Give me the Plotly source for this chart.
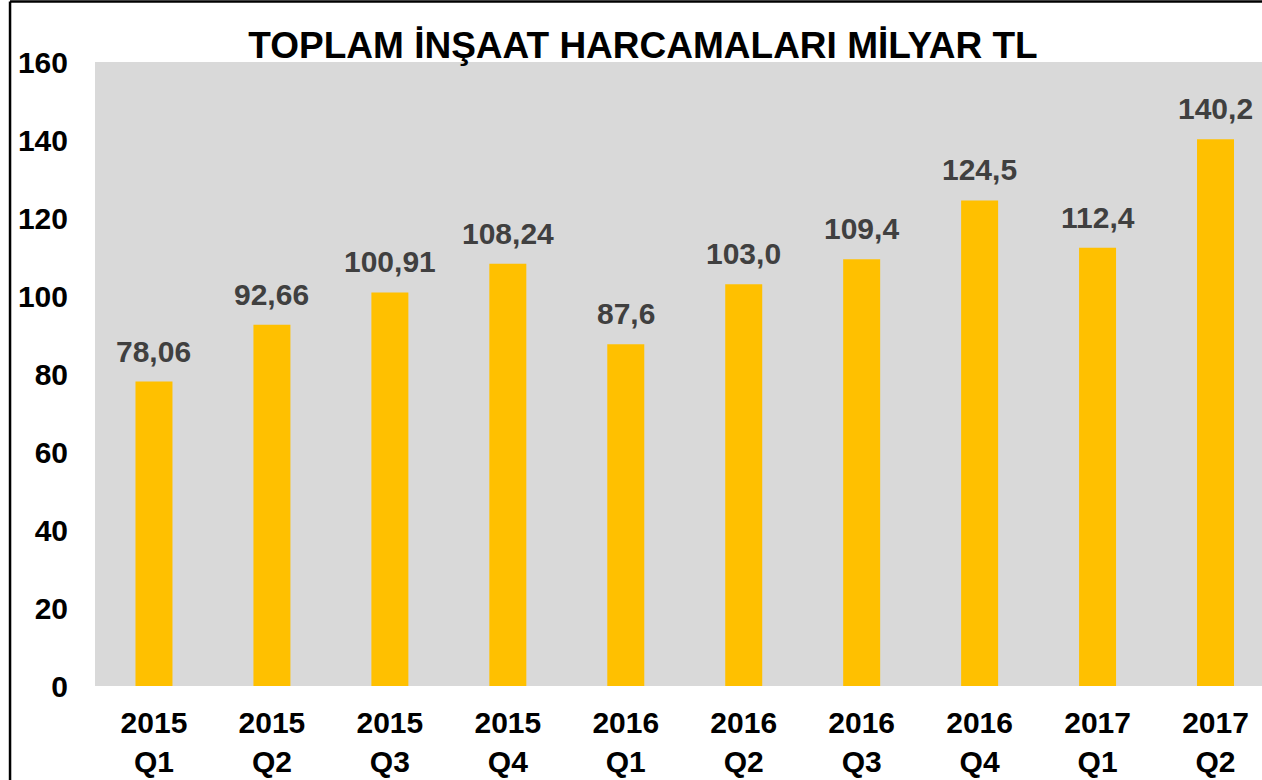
import plotly.graph_objects as go

categories = ["2015<br>Q1", "2015<br>Q2", "2015<br>Q3", "2015<br>Q4", "2016<br>Q1",
              "2016<br>Q2", "2016<br>Q3", "2016<br>Q4", "2017<br>Q1", "2017<br>Q2"]
values = [78.06, 92.66, 100.91, 108.24, 87.6, 103.0, 109.4, 124.5, 112.4, 140.2]
value_labels = ["78,06", "92,66", "100,91", "108,24", "87,6", "103,0", "109,4", "124,5", "112,4", "140,2"]
y_ticks = [0, 20, 40, 60, 80, 100, 120, 140, 160]
title_text = "TOPLAM İNŞAAT HARCAMALARI MİLYAR TL"

FONT = "Liberation Sans, Arial, sans-serif"
W, H = 1262, 780
L, R, T, B = 94.5, 0, 62, 94
pw = W - L - R
ph = H - T - B

fig = go.Figure()
fig.add_trace(go.Bar(
    x=list(range(len(categories))), y=values,
    marker=dict(color="#FFC000", line=dict(width=0)),
    width=0.3136,
    hoverinfo="skip",
))

for i, (v, lab) in enumerate(zip(values, value_labels)):
    fig.add_annotation(
        x=i, y=v, text=lab, showarrow=False, yanchor="bottom", xanchor="center",
        yshift=12, font=dict(family=FONT, size=30, color="#404040", weight="bold"),
    )

fig.update_layout(
    width=W, height=H,
    margin=dict(l=L, r=R, t=T, b=B, pad=0),
    paper_bgcolor="white", plot_bgcolor="#D9D9D9",
    showlegend=False,
    title=dict(text=title_text, x=643 / W, xanchor="center", xref="container",
               y=1 - 45 / H, yanchor="middle", yref="container",
               font=dict(family=FONT, size=37, color="black", weight="bold")),
    xaxis=dict(tickmode="array", tickvals=list(range(len(categories))), ticktext=categories,
               range=[-0.5, (pw / 118) - 0.5], showgrid=False, zeroline=False, showline=False,
               ticks="", ticklabelstandoff=16,
               tickfont=dict(family=FONT, size=30, color="black", weight="bold")),
    yaxis=dict(range=[0, 160], tickvals=y_ticks, showgrid=False, zeroline=False, showline=False,
               ticks="", ticklabelstandoff=26,
               tickfont=dict(family=FONT, size=30, color="black", weight="bold")),
)

# outer frame lines (top and left) in paper coordinates
x_left = (9.5 - L) / pw
y_top = 1 + (T - 1.5) / ph
fig.add_shape(type="line", xref="paper", yref="paper",
              x0=x_left, x1=(W - L) / pw, y0=y_top, y1=y_top,
              line=dict(color="black", width=2.5))
fig.add_shape(type="line", xref="paper", yref="paper",
              x0=x_left, x1=x_left, y0=y_top, y1=-(B) / ph,
              line=dict(color="black", width=2.5))

fig.write_html("out.html", config={"displayModeBar": False},
               post_script="document.body.style.margin='0';document.body.style.overflow='hidden';")
